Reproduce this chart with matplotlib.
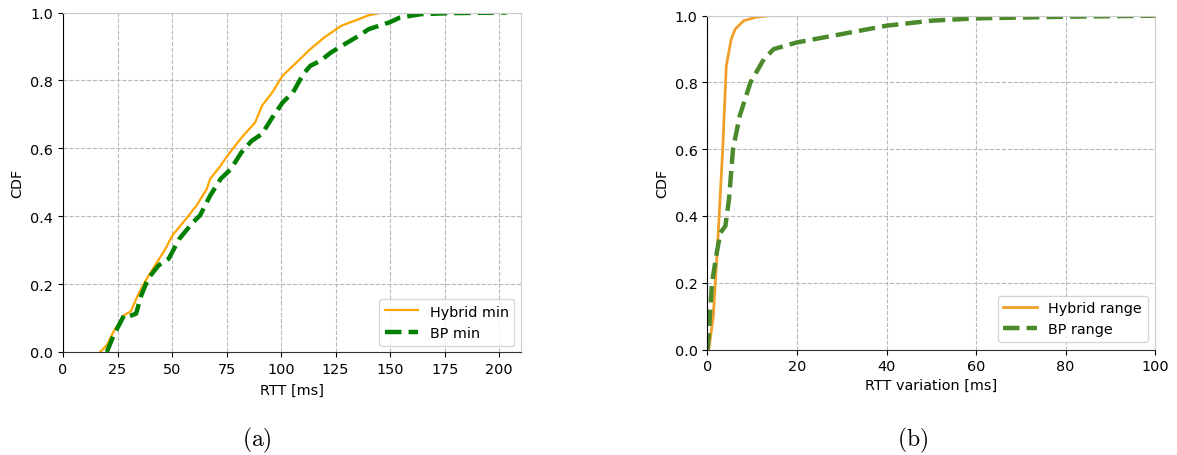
import matplotlib
matplotlib.use('Agg')
from matplotlib import pyplot as plt

plt.rcParams['font.family'] = 'DejaVu Sans'
plt.rcParams['mathtext.fontset'] = 'cm'

# (a) minimum RTT CDFs
hybrid_min_x = [17, 20.1, 23.2, 28, 31.1, 34.3, 37.5, 42.2, 47, 50.1, 56.4, 61.2, 65.9, 67.5,
                72.3, 75.4, 80.2, 83.3, 88.1, 91.2, 96, 100.7, 107.1, 113.4, 119.7, 127.6,
                135.5, 140.2, 146.6]
hybrid_min_y = [0.0, 0.02, 0.06, 0.108, 0.12, 0.167, 0.206, 0.255, 0.304, 0.343, 0.392, 0.431,
                0.48, 0.51, 0.549, 0.578, 0.618, 0.642, 0.676, 0.725, 0.765, 0.814, 0.853,
                0.892, 0.926, 0.961, 0.98, 0.992, 1.0]

bp_min_x = [20.1, 23.2, 28, 29.5, 33.5, 35.9, 39, 43.8, 48.5, 53.3, 59.6, 62.8, 67.5, 72.3, 77,
            81.8, 86.5, 91.2, 96, 100.7, 105.5, 110.2, 113.4, 118.1, 122.8, 129.2, 135.5,
            140.2, 149.7, 154.5, 163.9, 176.6, 203.5]
bp_min_y = [0.0, 0.049, 0.108, 0.103, 0.113, 0.167, 0.216, 0.255, 0.275, 0.333, 0.382, 0.402,
            0.461, 0.51, 0.539, 0.588, 0.622, 0.642, 0.691, 0.735, 0.765, 0.819, 0.843, 0.858,
            0.882, 0.907, 0.931, 0.951, 0.971, 0.985, 0.995, 0.998, 1.0]

# (b) RTT range CDFs
hybrid_range_x = [0, 0.3, 1.3, 2.2, 3.4, 4.2, 5.3, 6.2, 8.1, 11, 14, 20]
hybrid_range_y = [0.0, 0.0, 0.1, 0.3, 0.6, 0.85, 0.93, 0.96, 0.985, 0.996, 1.0, 1.0]

bp_range_x = [0, 0.3, 1.0, 2.2, 2.9, 4.0, 4.8, 5.7, 7.2, 9.6, 12.6, 14.8, 20, 30, 40, 50, 60,
              80, 100]
bp_range_y = [0.0, 0.05, 0.2, 0.3, 0.35, 0.37, 0.45, 0.6, 0.7, 0.8, 0.87, 0.9, 0.92, 0.945,
              0.97, 0.985, 0.992, 0.997, 1.0]

W, H = 1177, 456
FS = 10.4
fig = plt.figure(figsize=(W / 100, H / 100), dpi=100)


def px_axes(left, top, right, bottom):
    return fig.add_axes([left / W, 1 - bottom / H, (right - left) / W, (bottom - top) / H])


def style(ax):
    ax.grid(True, linestyle='--', color='#b8b8b8', linewidth=0.8)
    ax.set_axisbelow(True)
    ax.spines['top'].set_color('#cccccc')
    ax.spines['right'].set_color('#cccccc')
    ax.spines['bottom'].set_color('#333333')
    ax.tick_params(labelsize=FS)
    ax.set_ylim(0, 1)
    ax.set_yticks([0, 0.2, 0.4, 0.6, 0.8, 1.0])
    ax.set_ylabel('CDF', fontsize=FS)


ax1 = px_axes(63, 13.5, 521, 353)
ax1.plot(hybrid_min_x, hybrid_min_y, color='orange', linewidth=1.6, label='Hybrid min')
ax1.plot(bp_min_x, bp_min_y, '--', color='green', linewidth=3.2, label='BP min')
style(ax1)
ax1.set_xlim(0, 210)
ax1.set_xticks(range(0, 201, 25))
ax1.set_xlabel('RTT [ms]', fontsize=FS, labelpad=5)
ax1.legend(loc='lower right', fontsize=FS, handlelength=2.3, borderaxespad=0.45)

ax2 = px_axes(707.5, 16.7, 1155, 350.5)
ax2.plot(hybrid_range_x, hybrid_range_y, color='#f0a02a', linewidth=2.0, label='Hybrid range')
ax2.plot(bp_range_x, bp_range_y, '--', color='#4b8a2b', linewidth=3.2, label='BP range')
style(ax2)
ax2.set_xlim(0, 100)
ax2.set_xticks(range(0, 101, 20))
ax2.set_xlabel('RTT variation [ms]', fontsize=FS, labelpad=3)
ax2.legend(loc='lower right', fontsize=FS, handlelength=2.3, borderaxespad=0.5)

fig.text(257 / W, 1 - 440 / H, r'$\mathrm{(a)}$', fontsize=17, ha='center', va='center')
fig.text(913 / W, 1 - 440 / H, r'$\mathrm{(b)}$', fontsize=17, ha='center', va='center')

fig.savefig('out.png', dpi=100)
